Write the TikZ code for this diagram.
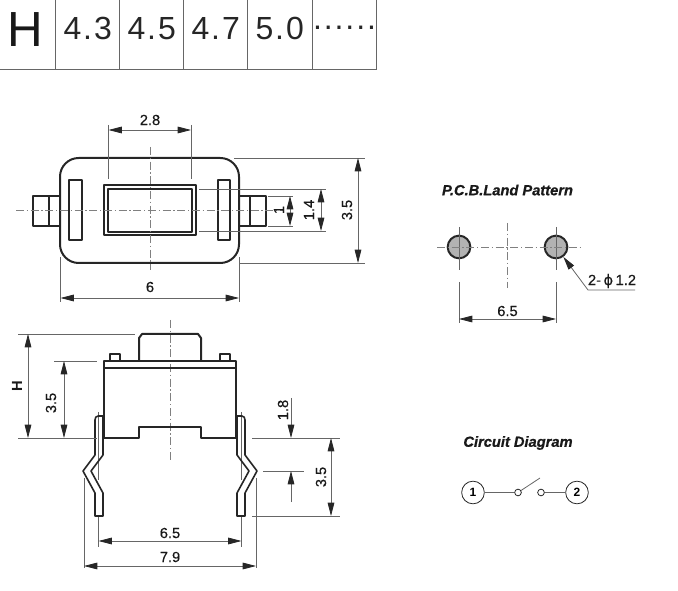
\documentclass[tikz,border=0pt]{standalone}
\usepackage{fontspec}
\setmainfont{Liberation Sans}
\newfontfamily\tablefont[LetterSpace=6]{Liberation Sans}
\newfontfamily\dimfont[FakeBold=0.3]{Liberation Sans}
\newfontfamily\titlefont[BoldItalicFeatures={FakeBold=0.8}]{Liberation Sans}
\newfontfamily\symbolfont[FakeBold=0.3]{DejaVu Sans}
\usetikzlibrary{arrows.meta}

\begin{document}
\begin{tikzpicture}[
        x=0.75pt, y=-0.75pt,
        outline/.style={draw=black!85, line width=1.5pt, line join=round},
        thinline/.style={draw=black!60, line width=0.6pt},
        centerline/.style={draw=black!50, line width=0.6pt, dash pattern=on 6pt off 2pt on 1pt off 2pt},
        dimline/.style={thinline, {Triangle[length=10pt,width=5pt,black!85]}-{Triangle[length=10pt,width=5pt,black!85]}},
        dimend/.style={thinline, -{Triangle[length=10pt,width=5pt,black!85]}},
        dimlabel/.style={inner sep=0pt, text=black!90, font=\fontsize{11}{11}\dimfont},
        sidelabel/.style={dimlabel, rotate=90},
        titlelabel/.style={inner sep=0pt, text=black!90, font=\fontsize{11}{11}\titlefont\bfseries\itshape},
        tablelabel/.style={inner sep=0pt, anchor=base, text=black!85, font=\fontsize{24}{24}\tablefont},
        padnode/.style={circle, draw=black!85, fill=black!30, line width=1.5pt, minimum size=17pt, inner sep=0pt},
        termnode/.style={circle, draw=black!85, line width=0.6pt, minimum size=17pt, inner sep=0pt, font=\fontsize{9}{9}\selectfont\bfseries},
        contactnode/.style={circle, draw=black!85, line width=0.6pt, minimum size=5pt, inner sep=0pt}
        ]
    \useasboundingbox (0,0) rectangle (678,591);

    % table of heights
    \foreach \x in {55.7,119.7,183.7,247.7,312.3,376.7}
        \draw[thinline] (\x,0) -- (\x,69);
    \draw[thinline] (0,69) -- (376.7,69);
    \node[inner sep=0pt, text=black!90, font=\fontsize{37}{37}\selectfont] (Hhead) at (25,29.5) {H};
    \node[tablelabel] (H1) at (87.7,40) {4.3};
    \node[tablelabel] (H2) at (151.7,40) {4.5};
    \node[tablelabel] (H3) at (215.7,40) {4.7};
    \node[tablelabel] (H4) at (279.7,40) {5.0};
    \node[tablelabel] (H5) at (344.5,30) {......};

    % top view
    \draw[outline, rounded corners=14pt] (60,158) rectangle (239,263);
    \draw[outline] (69,180) rectangle (82,240);
    \draw[outline] (218,180) rectangle (230,240);
    \draw[outline] (104,185) rectangle (196,235);
    \draw[outline] (108,189) rectangle (192,232);
    \draw[outline] (60,196) -- (33,196) -- (33,226) -- (60,226);
    \draw[outline] (49,196) -- (49,226);
    \draw[outline] (239,196) -- (266,196) -- (266,226) -- (239,226);
    \draw[outline] (250,196) -- (250,226);
    \draw[centerline] (16,210) -- (283,210);
    \draw[centerline] (150,147) -- (150,270);

    \draw[thinline] (108.5,125) -- (108.5,179);
    \draw[thinline] (191,125) -- (191,179);
    \draw[dimline] (108.5,130) -- (191,130);
    \node[dimlabel] (topw) at (150,120) {2.8};
    \draw[thinline] (60.5,257) -- (60.5,302);
    \draw[thinline] (239,257) -- (239,302);
    \draw[dimline] (60.5,298) -- (239,298);
    \node[dimlabel] (topl) at (150,287) {6};
    \draw[thinline] (234,158) -- (365,158);
    \draw[thinline] (239,263) -- (365,263);
    \draw[dimline] (358,158) -- (358,263);
    \node[sidelabel] (toph) at (347,210) {3.5};
    \draw[thinline] (199,189) -- (326,189);
    \draw[thinline] (199,231) -- (326,231);
    \draw[dimline] (321,189) -- (321,231);
    \node[sidelabel] (topb) at (309,210) {1.4};
    \draw[thinline] (268,196) -- (293,196);
    \draw[thinline] (268,226) -- (293,226);
    \draw[dimline] (290,196) -- (290,226);
    \node[sidelabel] (topp) at (279,210) {1};

    % side view
    \draw[centerline] (170,320) -- (170,462);
    \draw[outline] (139,362) -- (139,338) -- (142,334) -- (198,334) -- (201,338) -- (201,362);
    \draw[outline] (104,361) rectangle (236,368);
    \draw[outline] (104,368) -- (104,438) -- (139,438) -- (139,427) -- (201,427) -- (201,438) -- (236,438) -- (236,368);
    \draw[outline, line width=1.1pt] (110,361) -- (110,354) -- (120,354) -- (120,361);
    \draw[outline, line width=1.1pt] (220,361) -- (220,354) -- (230,354) -- (230,361);
    \foreach \mx in {1,-1} {
        \begin{scope}[shift={(170,0)}, xscale=\mx]
            \draw[thinline] (-71.5,412) -- (-71.5,480);
            \draw[thinline] (-71.5,517) -- (-71.5,547);
            \draw[outline, line width=1.2pt] (-67,416) -- (-72,416) .. controls (-74,416) and (-75,418) .. (-75,420) -- (-75,455) -- (-87,471) -- (-75,493) -- (-75,516) -- (-67,516) -- (-67,493) -- (-79,471) -- (-67,455) -- (-67,416);
            \draw[outline] (-66,417) -- (-66,438);
        \end{scope}
    }

    \draw[thinline] (18,334) -- (135,334);
    \draw[thinline] (18,438) -- (97,438);
    \draw[thinline] (54,361) -- (97,361);
    \draw[dimline] (28,334) -- (28,438);
    \node[sidelabel, font=\fontsize{11}{11}\selectfont\bfseries] (sideH) at (17,386) {H};
    \draw[dimline] (64,361) -- (64,438);
    \node[sidelabel] (sideb) at (51,403) {3.5};
    \draw[thinline] (252,438) -- (340,438);
    \draw[thinline] (263,471) -- (304,471);
    \draw[thinline] (252,516) -- (340,516);
    \draw[dimend] (291,398) -- (291,438);
    \draw[dimend] (291,502) -- (291,471);
    \node[sidelabel] (sidet) at (283,410) {1.8};
    \draw[dimline] (331,438) -- (331,516);
    \node[sidelabel] (sidel) at (321,477) {3.5};
    \draw[dimline] (98.5,541) -- (241.5,541);
    \node[dimlabel] (sidep) at (170,533) {6.5};
    \draw[thinline] (84,478) -- (84,568);
    \draw[thinline] (256,478) -- (256,568);
    \draw[dimline] (84,566) -- (256,566);
    \node[dimlabel] (sidew) at (170,557) {7.9};

    % land pattern
    \node[titlelabel] (landtitle) at (507.5,190) {P.C.B.Land Pattern};
    \node[padnode] (padA) at (459,247) {};
    \node[padnode] (padB) at (556,247) {};
    \draw[thinline] (459,227) -- (459,270);
    \draw[thinline] (556,227) -- (556,270);
    \draw[centerline] (437,247) -- (583,247);
    \draw[centerline] (507.5,223) -- (507.5,288);
    \draw[thinline] (459,282) -- (459,323);
    \draw[thinline] (556,282) -- (556,323);
    \draw[dimline] (459,319) -- (556,319);
    \node[dimlabel] (landp) at (507.5,311) {6.5};
    \coordinate (lead) at (588,290);
    \coordinate (leadend) at (635,290);
    \draw[dimend] (leadend) -- (lead) -- (padB);
    \node[dimlabel] (landd) at (612,281) {2-\,{\symbolfont ϕ}\,1.2};

    % circuit
    \node[titlelabel] (circtitle) at (518,443) {Circuit Diagram};
    \node[termnode] (T1) at (473,492.5) {1};
    \node[termnode] (T2) at (577,492.5) {2};
    \node[contactnode] (K1) at (518,492.5) {};
    \node[contactnode] (K2) at (541,492.5) {};
    \coordinate (blade) at (540,478);
    \draw[thinline] (T1) -- (K1);
    \draw[thinline] (K2) -- (T2);
    \draw[thinline] (K1) -- (blade);
\end{tikzpicture}
\end{document}
